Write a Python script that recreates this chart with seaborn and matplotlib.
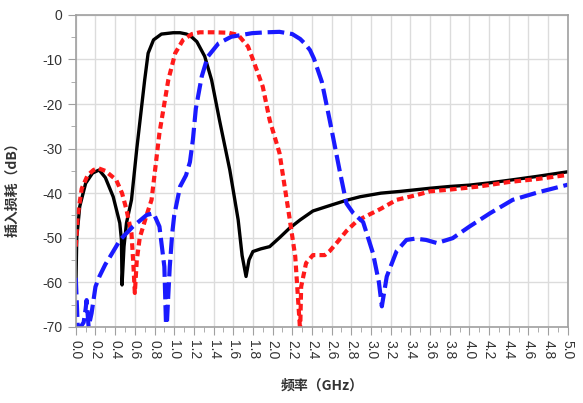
import pandas as pd
import matplotlib
matplotlib.use('Agg')
import matplotlib.pyplot as plt
import seaborn as sns
from matplotlib.ticker import MultipleLocator, FormatStrFormatter

# 三条滤波器插入损耗曲线
f_black = [0.0, 0.01, 0.04, 0.1, 0.17, 0.237, 0.3, 0.38, 0.447, 0.464, 0.47, 0.49, 0.515,
           0.566, 0.62, 0.70, 0.735, 0.79, 0.87, 0.99, 1.06, 1.125, 1.18, 1.23, 1.31, 1.38,
           1.46, 1.565, 1.65, 1.69, 1.73, 1.76, 1.8, 1.88, 1.97, 2.07, 2.17, 2.28, 2.41, 2.55,
           2.65, 2.75, 2.89, 3.1, 3.3, 3.6, 3.8, 4.0, 4.2, 4.44, 4.7, 5.0]
db_black = [-62, -50, -43, -37.8, -35.5, -34.8, -36.5, -40.8, -46.7, -50.5, -60.6, -52, -46.7,
            -41.5, -30, -14.6, -8.6, -5.6, -4.3, -4.0, -4.0, -4.3, -5.0, -6.0, -9.3, -14.6,
            -23.6, -34.8, -46, -54, -58.7, -55, -53.1, -52.5, -52, -50, -47.9, -46, -44, -43,
            -42.3, -41.6, -40.8, -40, -39.6, -38.9, -38.5, -38.2, -37.7, -37, -36.2, -35.2]

f_red = [0.0, 0.02, 0.06, 0.12, 0.18, 0.227, 0.3, 0.41, 0.47, 0.515, 0.566, 0.585, 0.6, 0.62,
         0.65, 0.72, 0.77, 0.85, 0.94, 1.01, 1.09, 1.18, 1.26, 1.4, 1.55, 1.65, 1.75, 1.8,
         1.9, 1.97, 2.07, 2.17, 2.23, 2.28, 2.29, 2.34, 2.41, 2.53, 2.58, 2.65, 2.75, 2.85, 2.92,
         3.1, 3.26, 3.45, 3.6, 3.8, 4.1, 4.4, 4.7, 5.0]
db_red = [-52, -45, -39, -36, -34.8, -34.4, -35, -37, -40, -43.7, -49, -56, -62.4, -55,
          -50, -44.9, -41.5, -26.5, -14.6, -8.6, -5.6, -4.3, -3.9, -3.9, -4.0, -4.5, -7.1, -10,
          -16.1, -23.6, -31, -45.3, -54.2, -71, -61, -55.7, -53.9, -53.9, -53, -51.2, -48.5,
          -46.4, -45.5, -43.5, -41.5, -40.5, -39.6, -39.2, -38.5, -37.5, -36.8, -35.9]

f_blue = [0.0, 0.02, 0.05, 0.08, 0.1, 0.11, 0.13, 0.16, 0.2, 0.24, 0.3, 0.35, 0.45, 0.58,
          0.72, 0.79, 0.85, 0.9, 0.92, 0.935, 0.955, 0.98, 1.0, 1.06, 1.12, 1.16, 1.19, 1.22,
          1.28, 1.34, 1.45, 1.58, 1.79, 1.94, 2.07, 2.2, 2.28, 2.33, 2.38, 2.42, 2.5, 2.58,
          2.68, 2.75, 2.82, 2.92, 3.02, 3.08, 3.11, 3.16, 3.26, 3.36, 3.45, 3.56, 3.67, 3.83,
          4.0, 4.21, 4.44, 4.7, 5.0]
db_blue = [-59, -70, -70, -69, -66, -64, -70, -67, -61, -58.7, -56, -54.2, -50.5, -47.5,
           -44.9, -44.5, -47.5, -56.5, -72, -65, -56.5, -49, -45, -38.5, -36, -33, -28, -21,
           -13.8, -9.4, -6.4, -4.9, -4.1, -3.9, -3.8, -4.3, -5.4, -6.5, -7.9, -9.8, -15,
           -23.6, -34.8, -42.3, -44.5, -46.5, -53.5, -60, -65.4, -58.7, -53, -50.5, -50.2,
           -50.5, -51.2, -50.1, -47.5, -44.5, -41.5, -39.8, -38.1]

x_ticks = [round(0.2 * i, 1) for i in range(26)]
y_ticks = [0, -10, -20, -30, -40, -50, -60, -70]

plt.rcParams['axes.unicode_minus'] = False

fig = plt.figure(figsize=(5.83, 4.03), dpi=100)
ax = fig.add_axes([0.130, 0.189, 0.844, 0.774])

sns.lineplot(x=f_black, y=db_black, ax=ax, color='black', lw=2.4, sort=False)
sns.lineplot(x=f_red, y=db_red, ax=ax, color='#ff1a1a', lw=3.0, sort=False)
ax.lines[-1].set_dashes((1.6, 1.0))
sns.lineplot(x=f_blue, y=db_blue, ax=ax, color='#1a1aff', lw=3.0, sort=False)
ax.lines[-1].set_dashes((4.0, 1.4))

ax.set_xlim(0, 5.0)
ax.set_ylim(-70, 0)
ax.set_xticks(x_ticks)
ax.set_yticks(y_ticks)
ax.xaxis.set_major_formatter(FormatStrFormatter('%.1f'))
ax.xaxis.set_minor_locator(MultipleLocator(0.1))
ax.yaxis.set_minor_locator(MultipleLocator(5))

ax.grid(True, which='major', color='#dcdcdc', lw=1.0)
ax.set_axisbelow(True)
for s in ax.spines.values():
    s.set_color('#a0a0a0')
    s.set_linewidth(1.2)

ax.tick_params(axis='both', which='major', length=6, color='#a0a0a0', labelsize=10,
               labelcolor='#333333')
ax.tick_params(axis='both', which='minor', length=3.5, color='#a0a0a0')
for lab in ax.get_xticklabels():
    lab.set_rotation(-90)
    lab.set_family(['Liberation Sans', 'DejaVu Sans'])
for lab in ax.get_yticklabels():
    lab.set_family(['Liberation Sans', 'DejaVu Sans'])

ax.set_xlabel('频率（GHz）', family=['Noto Sans CJK SC', 'DejaVu Sans'], fontsize=10,
              fontweight='bold', color='#333333', labelpad=14)
ax.set_ylabel('插入损耗（dB）', family=['Noto Sans CJK SC', 'DejaVu Sans'], fontsize=10,
              fontweight='bold', color='#333333')
ax.yaxis.set_label_coords(-0.115, 0.45)

fig.savefig('out.png', dpi=100)
